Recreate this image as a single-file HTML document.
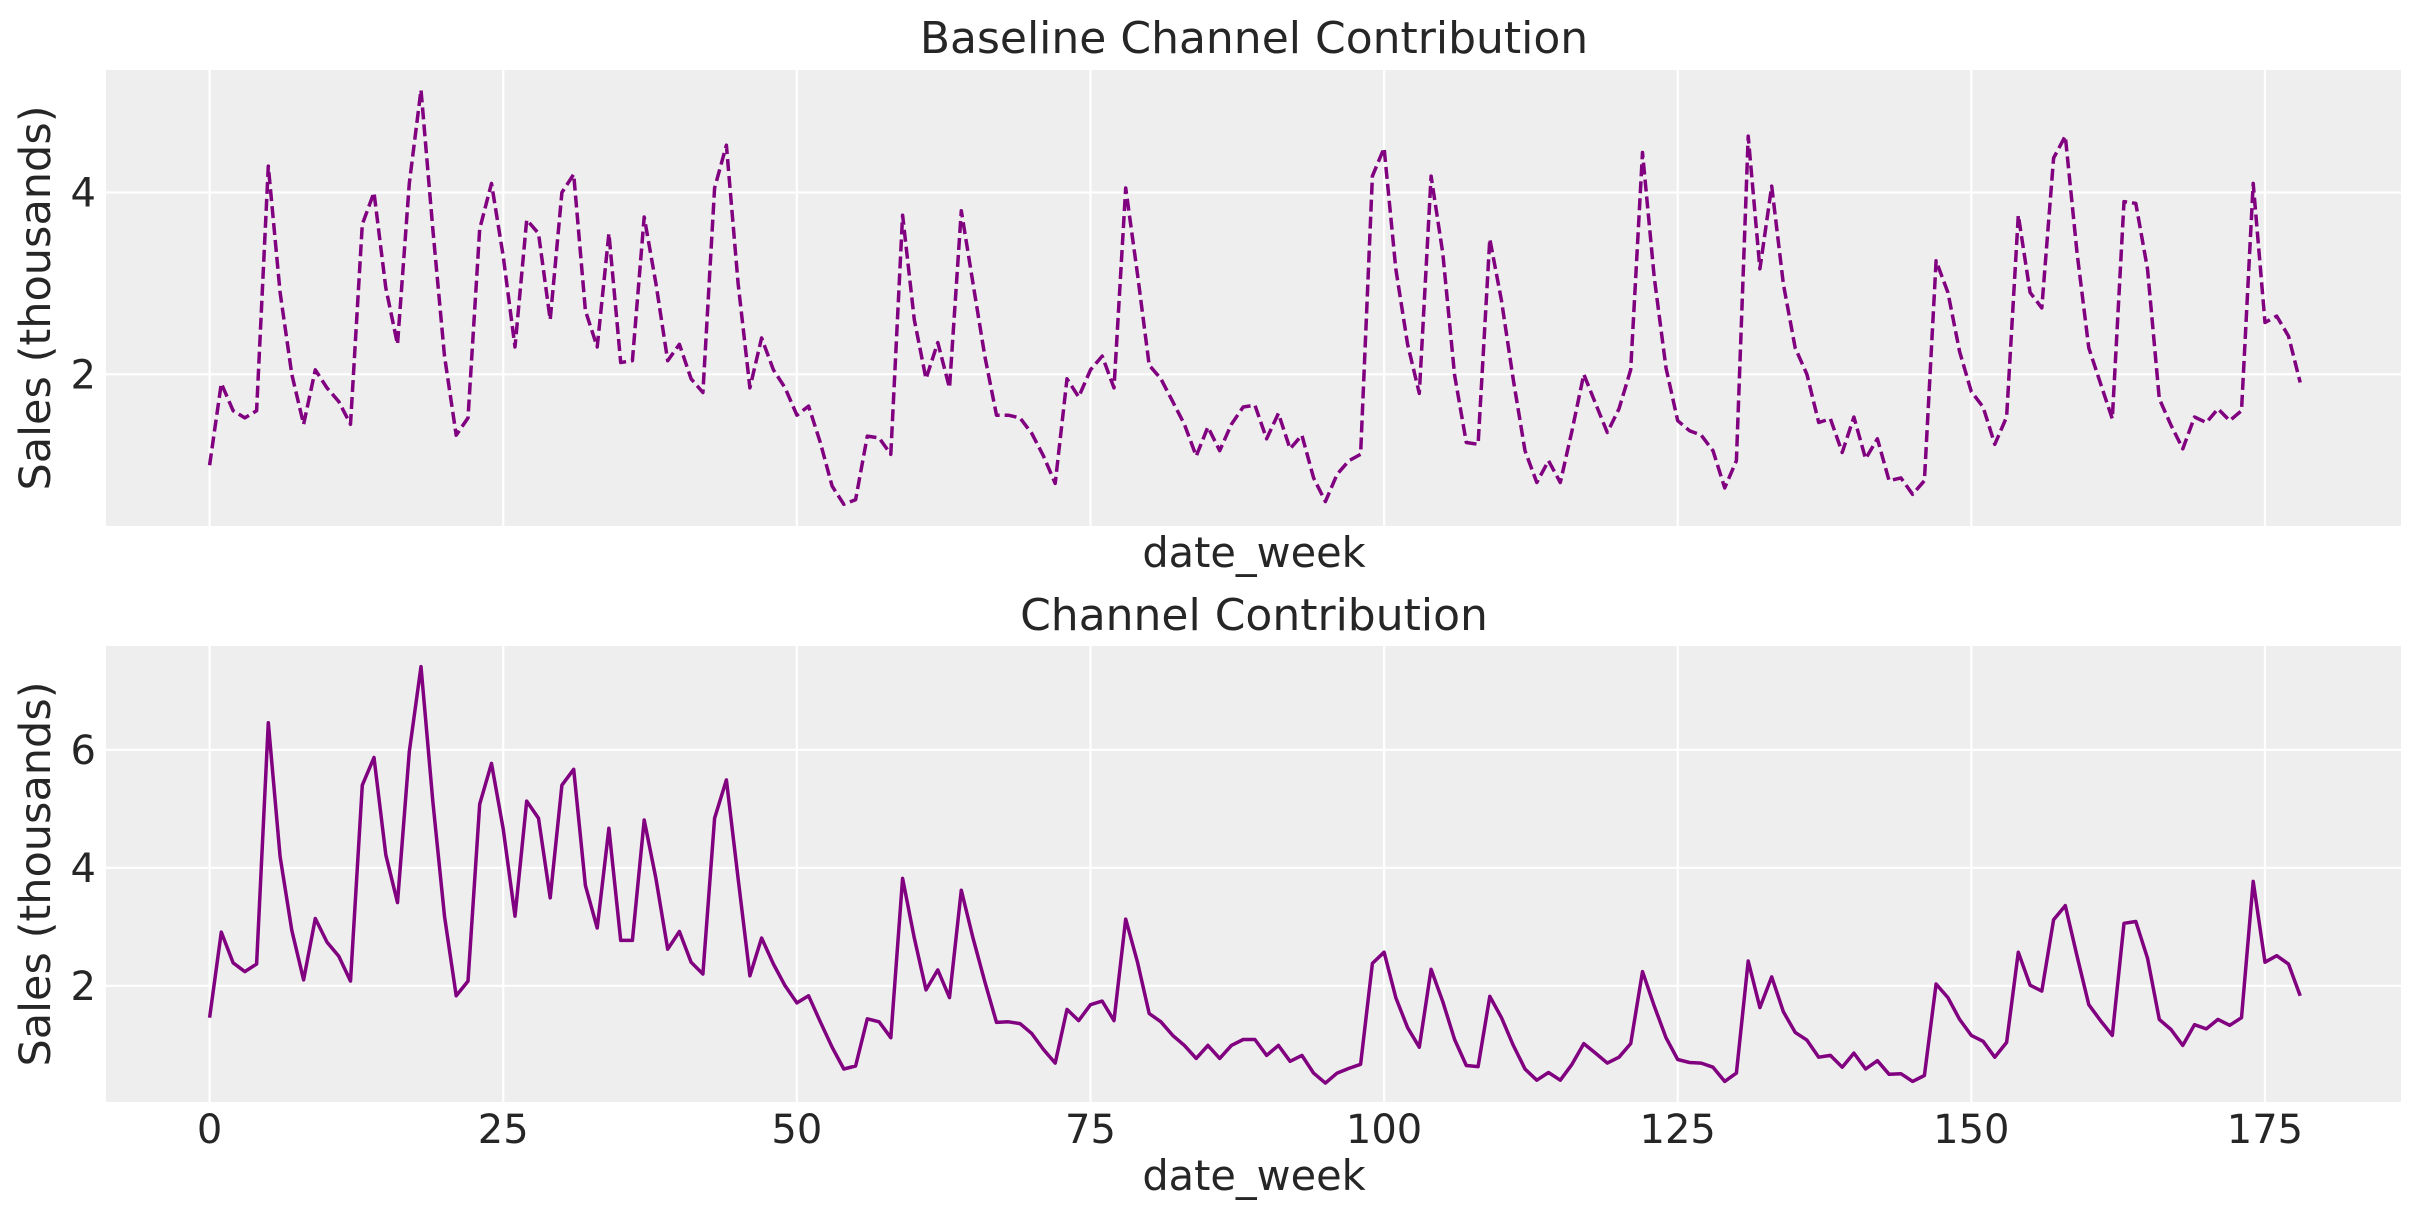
<!DOCTYPE html>
<html><head><meta charset="utf-8"><style>
html,body{margin:0;padding:0;background:#fff;}
svg{display:block;}
text{font-family:"DejaVu Sans","Liberation Sans",sans-serif;fill:#262626;}
</style></head><body>
<svg id="s" width="2423" height="1223" viewBox="0 0 2423 1223" xmlns="http://www.w3.org/2000/svg">
<rect x="0" y="0" width="2423" height="1223" fill="#fff"/>
<rect x="106" y="70" width="2295" height="456" fill="#eeeeee"/>
<rect x="106" y="646" width="2295" height="456" fill="#eeeeee"/>
<g id="grid" stroke="#fff" stroke-width="2.2"></g>
<g id="lines"></g>
<text x="1254" y="53" font-size="44" text-anchor="middle">Baseline Channel Contribution</text>
<text x="1254" y="630" font-size="44" text-anchor="middle">Channel Contribution</text>
<text x="1254" y="567" font-size="41.5" text-anchor="middle">date_week</text>
<text x="1254" y="1190" font-size="41.5" text-anchor="middle">date_week</text>
<text transform="translate(50,298) rotate(-90)" font-size="43" text-anchor="middle">Sales (thousands)</text>
<text transform="translate(50,874) rotate(-90)" font-size="43" text-anchor="middle">Sales (thousands)</text>
<g id="ticks" font-size="40"></g>
</svg>
<script>
var topv=[1.0,1.9,1.6,1.52,1.6,4.29,2.9,2.0,1.45,2.05,1.85,1.7,1.45,3.65,4.0,2.95,2.33,4.1,5.13,3.6,2.2,1.33,1.52,3.6,4.1,3.3,2.3,3.7,3.55,2.6,4.0,4.2,2.7,2.3,3.55,2.13,2.15,3.73,3.0,2.15,2.33,1.95,1.8,4.05,4.52,3.0,1.85,2.4,2.05,1.85,1.55,1.65,1.25,0.77,0.57,0.62,1.32,1.3,1.12,3.75,2.6,1.95,2.35,1.85,3.8,3.0,2.2,1.55,1.55,1.52,1.35,1.1,0.8,1.95,1.75,2.05,2.2,1.85,4.05,3.1,2.1,1.95,1.7,1.45,1.1,1.42,1.16,1.45,1.64,1.66,1.29,1.57,1.18,1.33,0.86,0.6,0.9,1.05,1.12,4.18,4.49,3.16,2.33,1.79,4.18,3.33,1.99,1.25,1.23,3.49,2.81,1.94,1.16,0.81,1.05,0.81,1.38,2.0,1.68,1.36,1.62,2.05,4.44,3.07,2.07,1.49,1.38,1.33,1.16,0.75,1.05,4.62,3.16,4.07,2.99,2.29,2.0,1.47,1.51,1.14,1.53,1.07,1.29,0.83,0.86,0.68,0.83,3.25,2.9,2.25,1.81,1.64,1.23,1.53,3.75,2.9,2.73,4.38,4.62,3.33,2.29,1.9,1.51,3.9,3.88,3.16,1.73,1.44,1.18,1.53,1.47,1.62,1.49,1.6,4.1,2.57,2.64,2.42,1.91];
var botv=[1.46,2.91,2.39,2.24,2.37,6.46,4.19,2.94,2.1,3.14,2.74,2.5,2.08,5.4,5.87,4.22,3.41,5.97,7.41,5.13,3.18,1.83,2.08,5.08,5.77,4.66,3.18,5.13,4.84,3.49,5.4,5.67,3.7,2.98,4.67,2.77,2.77,4.81,3.82,2.62,2.92,2.4,2.2,4.84,5.49,3.82,2.17,2.81,2.37,2.0,1.71,1.83,1.39,0.96,0.59,0.64,1.44,1.39,1.12,3.82,2.81,1.93,2.27,1.8,3.62,2.81,2.07,1.38,1.39,1.36,1.19,0.92,0.69,1.6,1.41,1.68,1.74,1.41,3.13,2.4,1.53,1.39,1.16,0.99,0.77,0.99,0.77,0.99,1.09,1.09,0.82,0.99,0.72,0.82,0.52,0.35,0.52,0.6,0.67,2.38,2.57,1.8,1.29,0.96,2.28,1.73,1.09,0.65,0.63,1.82,1.46,0.99,0.59,0.4,0.53,0.4,0.67,1.02,0.86,0.69,0.79,1.02,2.24,1.66,1.12,0.75,0.7,0.69,0.62,0.38,0.52,2.42,1.63,2.15,1.56,1.21,1.08,0.79,0.82,0.62,0.86,0.59,0.73,0.5,0.51,0.38,0.48,2.03,1.8,1.43,1.16,1.06,0.79,1.04,2.57,2.01,1.91,3.12,3.36,2.5,1.68,1.41,1.16,3.06,3.09,2.47,1.43,1.26,0.99,1.34,1.27,1.43,1.33,1.46,3.77,2.4,2.51,2.37,1.83];
(function(){
var NS="http://www.w3.org/2000/svg";
function X(i){return 209.6+11.745*i;}
function YT(v){return 192.5+(4-v)*90.9;}
function YB(v){return 867.8+(4-v)*59;}
function el(tag,attrs,parent,txt){var e=document.createElementNS(NS,tag);for(var k in attrs)e.setAttribute(k,attrs[k]);if(txt!==undefined)e.textContent=txt;parent.appendChild(e);return e;}
var g=document.getElementById('grid'),t=document.getElementById('ticks'),L=document.getElementById('lines');
for(var k=0;k<=175;k+=25){var x=X(k);
 el('line',{x1:x,x2:x,y1:70,y2:526},g);
 el('line',{x1:x,x2:x,y1:646,y2:1102},g);
 el('text',{x:x,y:1143,'text-anchor':'middle'},t,String(k));}
[2,4].forEach(function(v){var y=YT(v);el('line',{x1:106,x2:2401,y1:y,y2:y},g);el('text',{x:96,y:y+14,'text-anchor':'end'},t,String(v));});
[2,4,6].forEach(function(v){var y=YB(v);el('line',{x1:106,x2:2401,y1:y,y2:y},g);el('text',{x:96,y:y+14,'text-anchor':'end'},t,String(v));});
function pts(a,f){return a.map(function(v,i){return X(i).toFixed(1)+','+f(v).toFixed(1);}).join(' ');}
el('polyline',{points:pts(topv,YT),fill:'none',stroke:'#800080','stroke-width':3.5,'stroke-dasharray':'12,5','stroke-linejoin':'round'},L);
el('polyline',{points:pts(botv,YB),fill:'none',stroke:'#800080','stroke-width':3.5,'stroke-linejoin':'round'},L);
})();
</script>
</body></html>
